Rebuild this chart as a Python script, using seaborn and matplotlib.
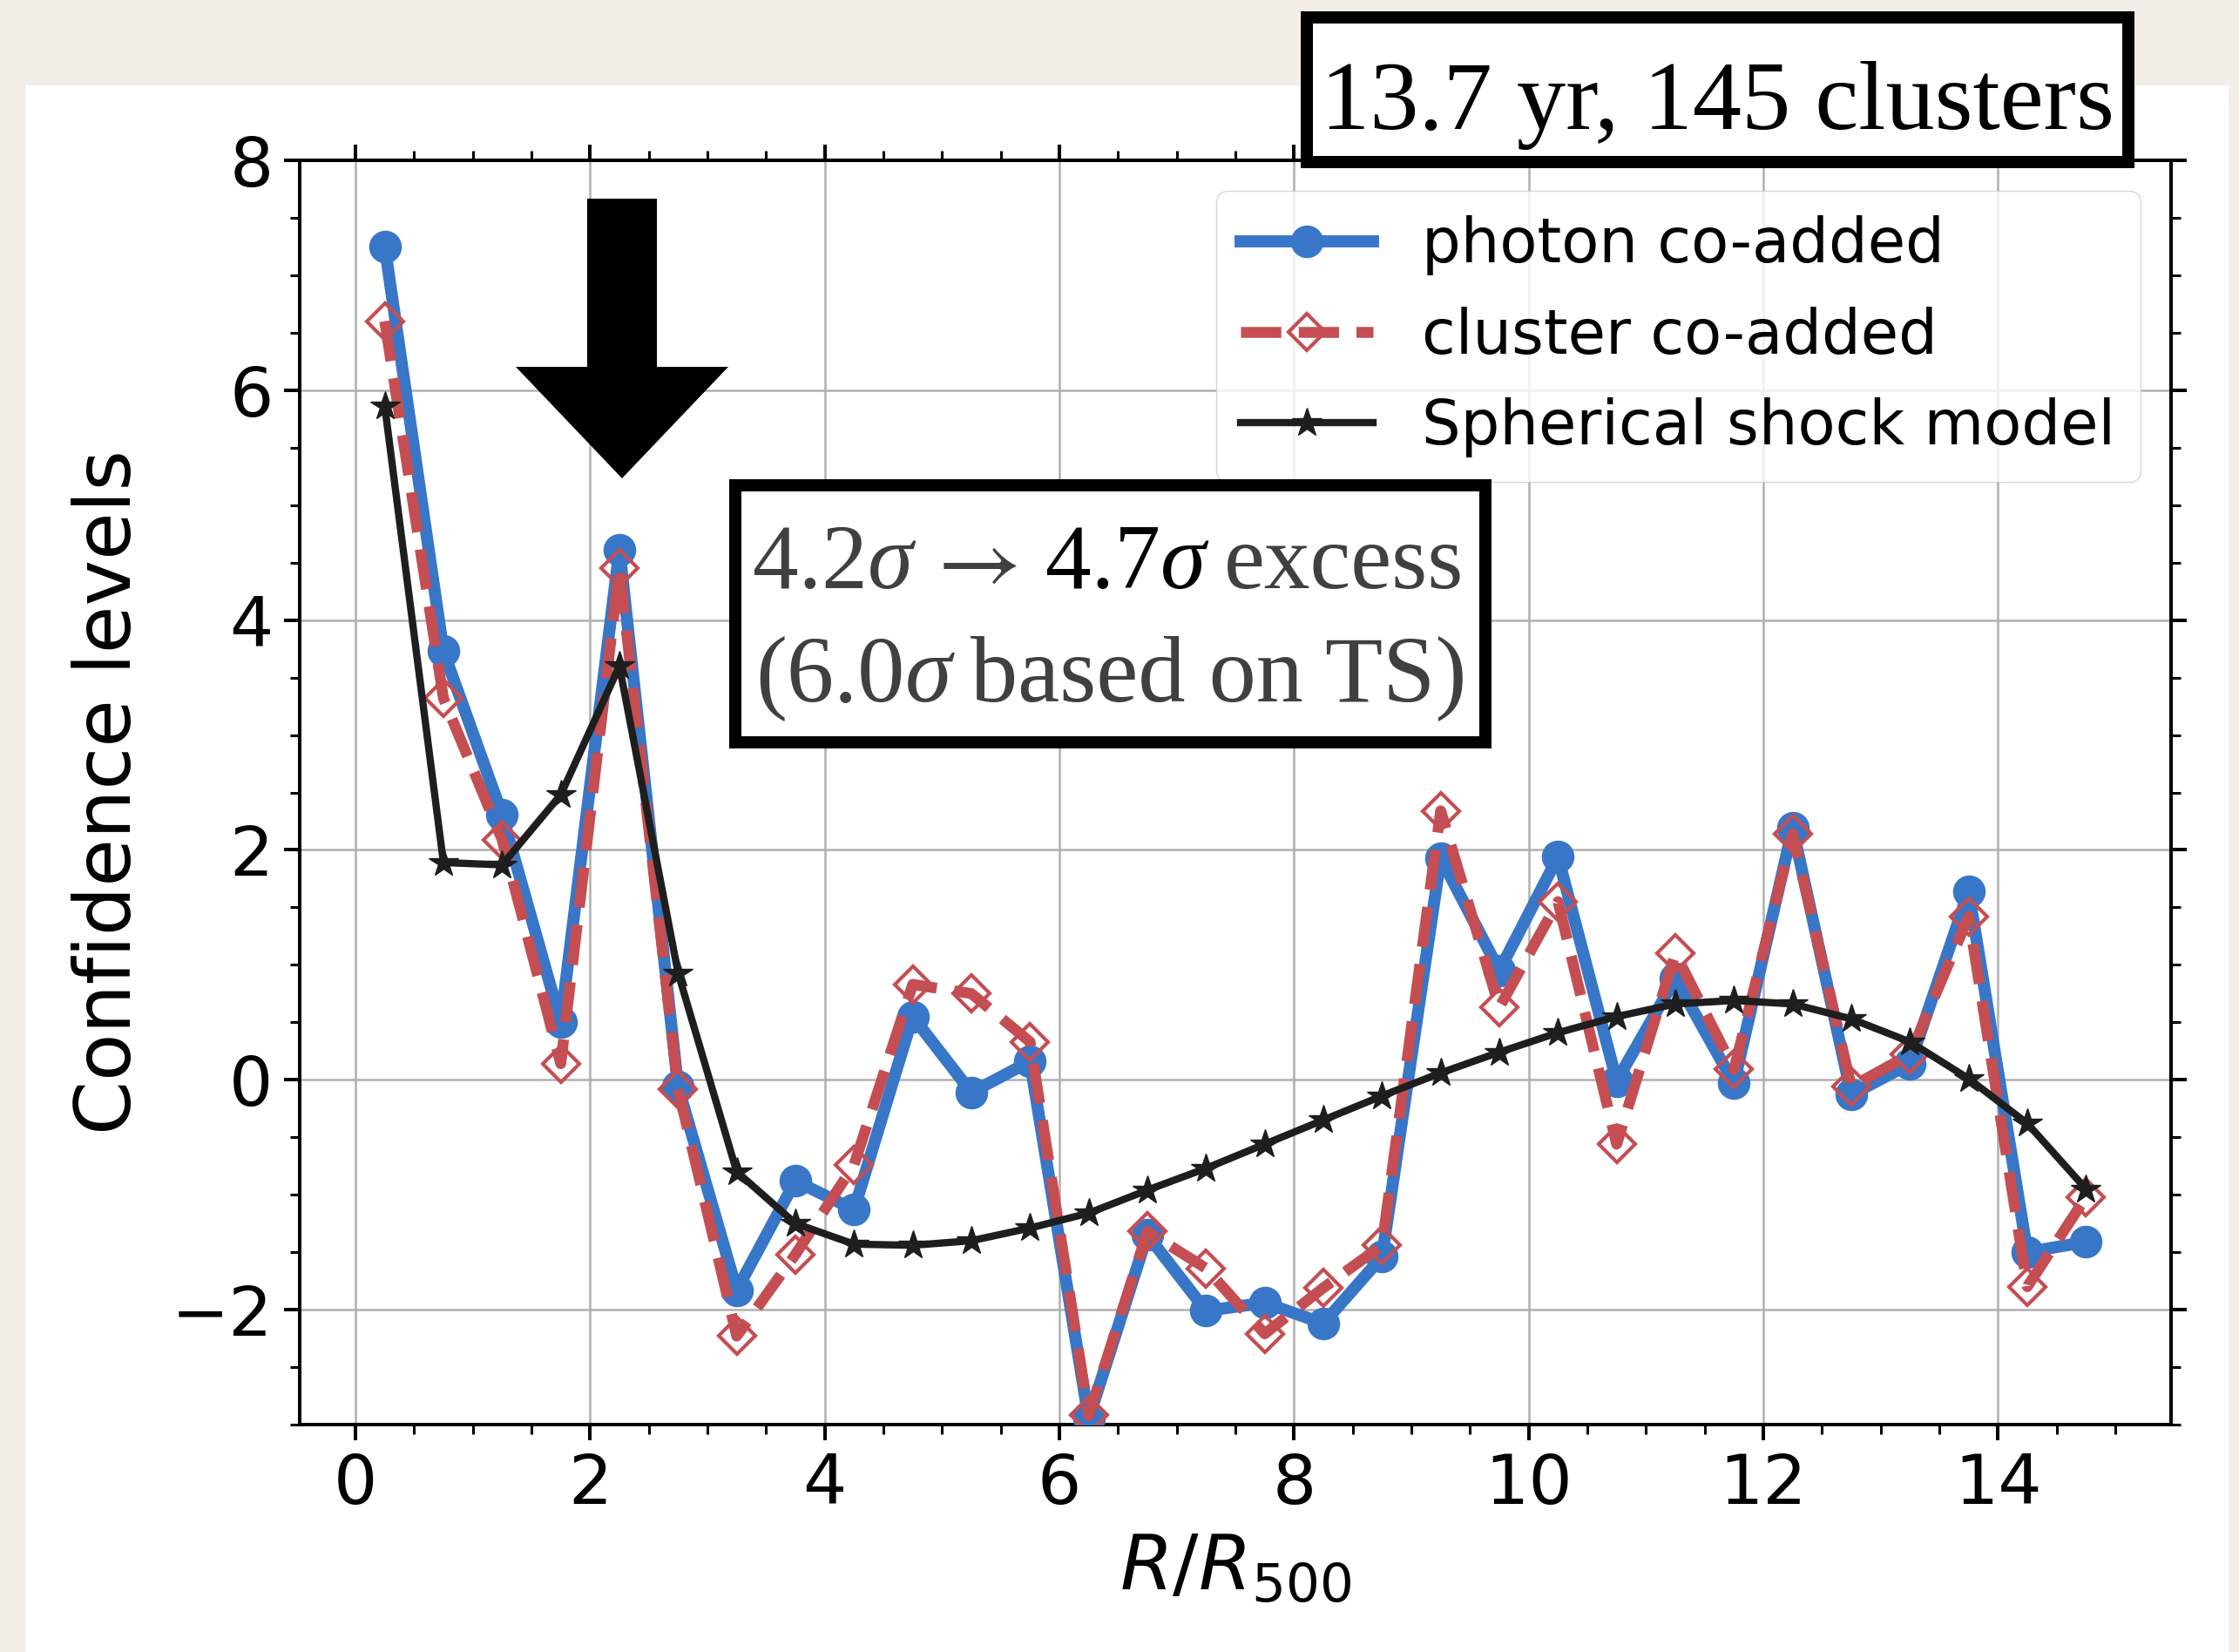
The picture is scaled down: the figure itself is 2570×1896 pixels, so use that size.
import matplotlib
matplotlib.use("Agg")
import matplotlib.pyplot as plt
from matplotlib.patches import Rectangle, Polygon
from matplotlib.ticker import MultipleLocator
import seaborn as sns

# Radial bins (in units of R500) and detection significance per bin
radius = [0.25, 0.75, 1.25, 1.75, 2.25, 2.75, 3.25, 3.75, 4.25, 4.75,
          5.25, 5.75, 6.25, 6.75, 7.25, 7.75, 8.25, 8.75, 9.25, 9.75,
          10.25, 10.75, 11.25, 11.75, 12.25, 12.75, 13.25, 13.75, 14.25, 14.75]
photon = [7.25, 3.73, 2.31, 0.50, 4.61, -0.06, -1.83, -0.88, -1.13, 0.55,
          -0.11, 0.16, -2.95, -1.35, -2.01, -1.94, -2.12, -1.54, 1.93, 0.95,
          1.94, -0.01, 0.88, -0.03, 2.19, -0.13, 0.14, 1.64, -1.50, -1.41]
cluster = [6.60, 3.32, 2.09, 0.14, 4.45, -0.08, -2.23, -1.52, -0.74, 0.83,
           0.75, 0.33, -2.92, -1.32, -1.64, -2.21, -1.81, -1.44, 2.34, 0.63,
           1.55, -0.56, 1.10, 0.09, 2.14, -0.06, 0.22, 1.42, -1.80, -1.02]
shock = [5.86, 1.89, 1.87, 2.48, 3.60, 0.93, -0.80, -1.25, -1.43, -1.44,
         -1.40, -1.29, -1.16, -0.96, -0.77, -0.56, -0.35, -0.14, 0.06, 0.24,
         0.41, 0.55, 0.66, 0.69, 0.66, 0.53, 0.33, 0.01, -0.38, -0.95]

series_labels = ["photon co-added", "cluster co-added", "Spherical shock model"]
title_text = "13.7 yr, 145 clusters"

W, H = 2570, 1896
DPI = 100
PAPER = "#f3efe8"
BLUE = "#3876c8"
RED = "#c44e52"
DARK = "#1e1e1e"
GRAY_TXT = "#404040"
SERIF = ["Liberation Serif", "DejaVu Serif"]

plt.rcParams["font.family"] = ["DejaVu Sans"]
plt.rcParams["axes.unicode_minus"] = True

fig = plt.figure(figsize=(W / DPI, H / DPI), dpi=DPI, facecolor=PAPER)


def fx(x):
    return x / W


def fy(y):
    return 1 - y / H


# white sheet behind the plot
fig.patches.append(Rectangle((fx(29), 0), fx(2558 - 29), (H - 98) / H,
                             transform=fig.transFigure, facecolor="white",
                             edgecolor="none", zorder=-5))

ax = fig.add_axes([fx(344), fy(1635), fx(2492 - 344), (1635 - 184) / H])
ax.set_facecolor("white")

sns.lineplot(x=radius, y=photon, ax=ax, color=BLUE, lw=10, marker="o", ms=26,
             markeredgecolor=BLUE, markerfacecolor=BLUE, markeredgewidth=1,
             label=series_labels[0], sort=False, errorbar=None, zorder=3)
sns.lineplot(x=radius, y=cluster, ax=ax, color=RED, lw=9, linestyle="--",
             marker="D", ms=21, markeredgecolor=RED, markerfacecolor="none",
             markeredgewidth=3, label=series_labels[1], sort=False,
             errorbar=None, zorder=4)
sns.lineplot(x=radius, y=shock, ax=ax, color=DARK, lw=6, marker="*", ms=25,
             markeredgecolor=DARK, markerfacecolor=DARK, markeredgewidth=1,
             label=series_labels[2], sort=False, errorbar=None, zorder=5)

ax.set_xlim(-0.475, 15.475)
ax.set_ylim(-3, 8)
ax.xaxis.set_major_locator(MultipleLocator(2))
ax.xaxis.set_minor_locator(MultipleLocator(0.5))
ax.yaxis.set_major_locator(MultipleLocator(2))
ax.yaxis.set_minor_locator(MultipleLocator(0.5))
ax.grid(True, which="major", color="#b0b0b0", lw=1.8, zorder=0)
ax.set_axisbelow(True)
for sp in ax.spines.values():
    sp.set_linewidth(2.9)
    sp.set_color("black")
ax.tick_params(which="both", direction="out", top=True, right=True,
               labeltop=False, labelright=False, colors="black")
ax.tick_params(which="major", length=13, width=2.9, labelsize=57, pad=9)
ax.tick_params(which="minor", length=8, width=2.2)

ax.set_xlabel(r"$R/R_{500}$", fontsize=63, labelpad=12)
ax.set_ylabel("Confidence levels", fontsize=64, labelpad=20)

leg = ax.legend(loc="upper right", fontsize=50.8, handlelength=2.15,
                framealpha=0.8, edgecolor="0.8", fancybox=True,
                borderaxespad=0.5)
for t in leg.get_texts():
    t.set_color("black")

# downward arrow pointing at the 2.25 R500 bin
arrow_pts = [(674, 228), (754, 228), (754, 421), (836, 421), (714, 549),
             (592, 421), (674, 421)]
fig.patches.append(Polygon([(fx(x), fy(y)) for x, y in arrow_pts], closed=True,
                           transform=fig.transFigure, facecolor="black",
                           edgecolor="none", zorder=6))


def framed_box(x0, y0, x1, y1, lw_px=14):
    half = lw_px / 2
    fig.patches.append(Rectangle((fx(x0 + half), fy(y1 - half)),
                                 fx(x1 - x0 - lw_px), (y1 - y0 - lw_px) / H,
                                 transform=fig.transFigure, facecolor="white",
                                 edgecolor="black", lw=lw_px * 72 / DPI,
                                 zorder=6))


def text_line(runs, xc, ybase, size):
    renderer = fig.canvas.get_renderer()
    items = []
    total = 0.0
    em = size * DPI / 72
    for i, (s, color, style, gap) in enumerate(runs):
        t = fig.text(0, 0, s, fontsize=size, family=SERIF, color=color,
                     style=style, va="baseline", ha="left", zorder=8,
                     math_fontfamily="stix")
        w = t.get_window_extent(renderer).width
        g = gap * em if i < len(runs) - 1 else 0.0
        items.append((t, w, g))
        total += w + g
    x = xc - total / 2
    for t, w, g in items:
        t.set_position((fx(x), fy(ybase)))
        x += w + g


framed_box(1493, 13, 2450, 193)
text_line([(title_text, "black", "normal", 0)], 1971, 148, 81)

framed_box(837, 550, 1712, 859)
text_line([("4.2", GRAY_TXT, "normal", 0.0),
           ("σ", GRAY_TXT, "italic", 0.12),
           (r"$\rightarrow$", GRAY_TXT, "normal", 0.3),
           ("4.7", "black", "normal", 0.0),
           ("σ", "black", "italic", 0.2),
           ("excess", GRAY_TXT, "normal", 0.0)], 1272, 675, 76)
text_line([("(6.0", GRAY_TXT, "normal", 0.0),
           ("σ", GRAY_TXT, "italic", 0.2),
           ("based on TS)", GRAY_TXT, "normal", 0.0)], 1275, 805, 78)

fig.savefig("out.png", dpi=DPI, facecolor=fig.get_facecolor())
